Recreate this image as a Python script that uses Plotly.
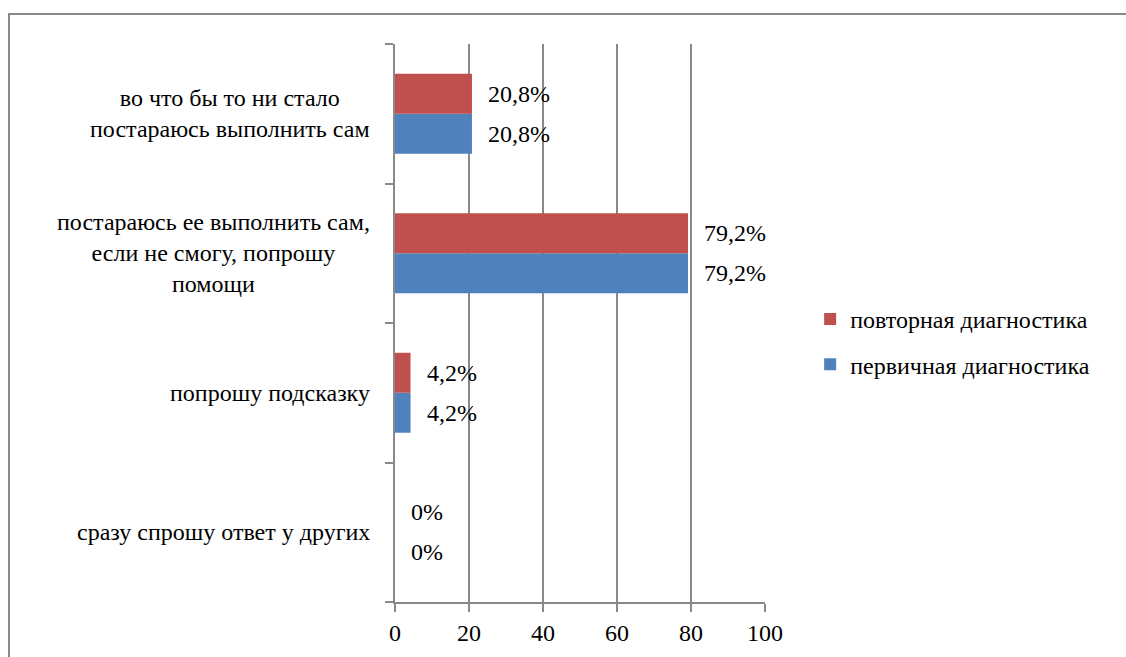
import plotly.graph_objects as go

categories = [
    "сразу спрошу ответ у других",
    "попрошу подсказку",
    "постараюсь ее выполнить сам, если не смогу, попрошу помощи",
    "во что бы то ни стало постараюсь выполнить сам",
]
category_labels = [
    "сразу спрошу ответ у других",
    "попрошу подсказку",
    "постараюсь ее выполнить сам,<br>если не смогу, попрошу<br>помощи",
    "во что бы то ни стало<br>постараюсь выполнить сам",
]
primary_values = [0, 4.2, 79.2, 20.8]
repeat_values = [0, 4.2, 79.2, 20.8]
series_names = ["первичная диагностика", "повторная диагностика"]
series_colors = ["#4F81BD", "#C0504D"]
legend_ranks = [2, 1]
x_ticks = [0, 20, 40, 60, 80, 100]

FONT = "'Liberation Serif', 'Times New Roman', Times, serif"
GRID = "#898989"

def fmt(v):
    return f"{v:g}".replace(".", ",") + "%"

fig = go.Figure()
for name, vals, col, rk in zip(series_names, [primary_values, repeat_values], series_colors, legend_ranks):
    fig.add_trace(go.Bar(
        y=categories, x=vals, name=name, orientation="h",
        marker=dict(color=col, line=dict(width=0)),
        legendgroup=name, legendrank=rk,
    ))

annotations = []
for cat, lab in zip(categories, category_labels):
    annotations.append(dict(
        xref="paper", yref="y", x=-0.062, y=cat, text=lab,
        xanchor="right", yanchor="middle", align="center", showarrow=False,
        font=dict(family=FONT, size=24, color="black"),
    ))
for vals, shift in [(primary_values, -20), (repeat_values, 20)]:
    for cat, v in zip(categories, vals):
        annotations.append(dict(
            xref="x", yref="y", x=v, y=cat, text=fmt(v),
            xanchor="left", yanchor="middle", xshift=14, yshift=shift,
            showarrow=False, font=dict(family=FONT, size=24, color="black"),
        ))

fig.update_layout(
    width=1126, height=657,
    margin=dict(l=395, r=361, t=44, b=55),
    paper_bgcolor="white", plot_bgcolor="white",
    barmode="group", bargap=0.427, bargroupgap=0,
    font=dict(family=FONT, size=24, color="black"),
    annotations=annotations,
    legend=dict(
        x=1.122, y=0.466, xanchor="left", yanchor="middle",
        traceorder="grouped", tracegroupgap=11,
        font=dict(family=FONT, size=24, color="black"),
        itemwidth=30,
    ),
    shapes=[dict(
        type="rect", xref="paper", yref="paper",
        x0=-1.0432, x1=2.2, y0=-0.3, y1=1.0538,
        line=dict(color=GRID, width=2), layer="below",
    )],
)
fig.update_xaxes(
    range=[0, 100], tickvals=x_ticks, showgrid=True, gridcolor=GRID, gridwidth=1.5,
    showline=True, linecolor=GRID, linewidth=1.5, zeroline=False,
    ticks="outside", ticklen=8, tickcolor=GRID, tickwidth=1.5,
    tickfont=dict(family=FONT, size=24, color="black"),
)
fig.update_yaxes(
    type="category", categoryorder="array", categoryarray=categories,
    range=[-0.5, 3.5], tickson="boundaries", ticks="outside", ticklen=8,
    tickcolor=GRID, tickwidth=1.5, showline=True, linecolor=GRID, linewidth=1.5,
    showticklabels=False, showgrid=False, zeroline=False,
)

fig.write_html("out.html", config={"displayModeBar": False},
               post_script="document.body.style.margin='0';")
